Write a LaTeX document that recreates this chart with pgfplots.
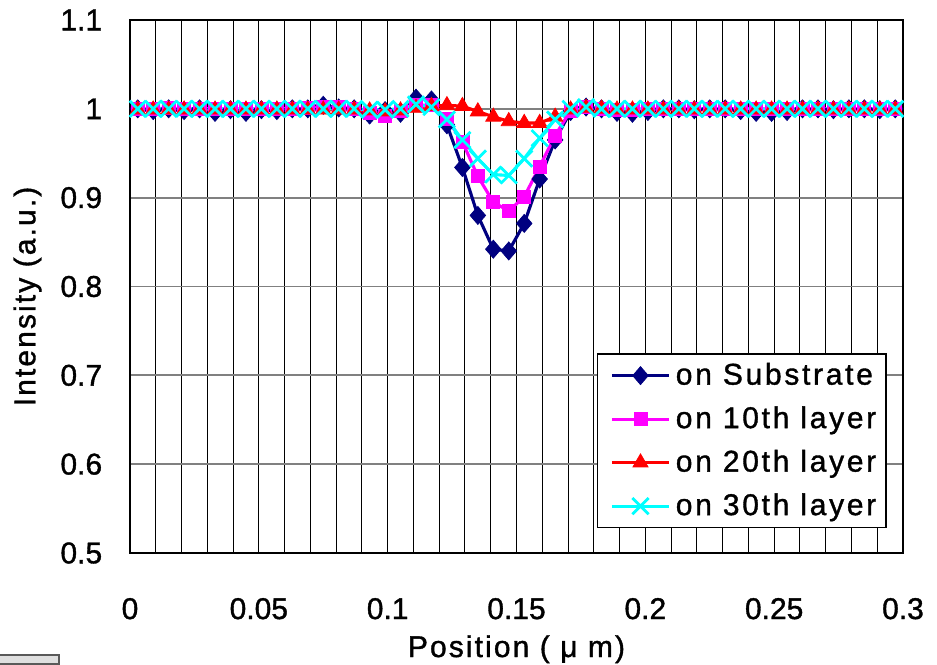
\documentclass[border=0pt]{standalone}
\usepackage{fontspec}
\setmainfont[FakeBold=1.2]{Liberation Sans}
\newfontfamily\legfont[LetterSpace=9,FakeBold=1.2]{Liberation Sans}
\newfontfamily\labfont[LetterSpace=7,FakeBold=1.2]{Liberation Sans}
\usepackage{pgfplots}
\usepackage{pgfplotstable}
\pgfplotsset{compat=1.18}
\definecolor{navy}{RGB}{0,0,128}
\definecolor{mag}{RGB}{255,0,255}
\definecolor{cy}{RGB}{0,255,255}
\definecolor{rd}{RGB}{255,0,0}

\pgfplotstableread{
x      sub    l10    l20    l30
0.003  1.000  1.000  0.999  1.000
0.009  0.998  1.000  0.999  1.000
0.015  1.000  1.001  0.999  1.000
0.021  0.998  1.000  0.999  1.000
0.027  1.000  1.000  0.999  1.000
0.033  0.996  1.000  0.999  1.000
0.039  0.999  1.000  0.999  1.000
0.045  0.996  1.000  0.999  1.000
0.051  0.999  1.000  0.999  1.000
0.057  0.998  1.000  0.999  1.000
0.063  1.000  1.000  0.999  1.000
0.069  1.000  1.001  0.999  1.000
0.075  1.004  1.002  0.999  1.000
0.081  1.001  1.002  0.999  1.000
0.087  1.000  1.000  0.999  1.000
0.093  0.993  0.996  0.998  0.999
0.099  0.998  0.992  0.997  0.999
0.105  0.995  0.998  0.998  1.000
0.111  1.012  1.004  1.001  1.005
0.117  1.010  1.004  1.003  1.002
0.123  0.982  0.989  1.004  0.988
0.129  0.934  0.963  1.003  0.965
0.135  0.880  0.924  0.997  0.944
0.141  0.842  0.895  0.991  0.926
0.147  0.840  0.885  0.986  0.925
0.153  0.871  0.901  0.984  0.944
0.159  0.921  0.935  0.984  0.967
0.165  0.965  0.970  0.991  0.988
0.171  0.997  0.998  0.999  1.000
0.177  1.002  1.002  1.001  1.002
0.183  1.000  1.000  1.000  1.000
0.189  0.996  0.999  0.999  1.000
0.195  0.995  0.999  0.999  1.000
0.201  0.997  1.000  0.999  1.000
0.207  1.000  1.000  0.999  1.000
0.213  1.000  1.000  0.999  1.000
0.219  0.999  1.000  0.999  1.000
0.225  1.000  1.000  0.999  1.000
0.231  1.000  1.000  0.999  1.000
0.237  0.998  1.000  0.999  1.000
0.243  0.996  1.000  0.999  1.000
0.249  0.996  1.000  0.999  1.000
0.255  0.997  1.000  0.999  1.000
0.261  1.000  1.000  0.999  1.000
0.267  1.000  1.000  0.999  1.000
0.273  0.999  1.000  0.999  1.000
0.279  1.000  1.000  0.999  1.000
0.285  1.000  1.000  0.999  1.000
0.291  0.999  1.000  0.999  1.000
0.297  1.000  1.000  0.999  1.000
}\datatable

\begin{document}
\begin{tikzpicture}
\begin{axis}[
  scale only axis,
  width=309.2pt, height=213.2pt,
  xmin=0, xmax=0.3, ymin=0.5, ymax=1.1,
  xtick={0,0.05,0.1,0.15,0.2,0.25,0.3},
  xticklabels={0,0.05,0.1,0.15,0.2,0.25,0.3},
  minor x tick num=4,
  ytick={0.5,0.6,0.7,0.8,0.9,1,1.1},
  yticklabels={0.5,0.6,0.7,0.8,0.9,1,1.1},
  xmajorgrids, xminorgrids, ymajorgrids,
  major x grid style={black, line width=0.4pt},
  minor x grid style={black, line width=0.4pt},
  major y grid style={gray, line width=0.7pt},
  major tick length=0pt, minor tick length=0pt,
  axis line style={black, line width=0.6pt},
  tick label style={font=\fontsize{12}{14}\selectfont},
  xticklabel style={yshift=-14.5pt},
  yticklabel style={xshift=-7.6pt},
  xlabel={Position ( μ m)},
  ylabel={Intensity (a.u.)},
  xlabel style={font=\fontsize{12}{14}\selectfont\labfont, at={(axis description cs:0.5,0)}, anchor=center, yshift=-38.5pt},
  ylabel style={font=\fontsize{12}{14}\selectfont\labfont, at={(axis description cs:0,0.5)}, anchor=center, yshift=41pt, xshift=-4pt},
  legend style={at={(0.979,0.0463)}, anchor=south east, draw=black, line width=0.6pt,
    font=\fontsize{12}{14}\selectfont\legfont, fill=white, inner xsep=1.9pt, inner ysep=1.5pt, row sep=3.2pt},
  legend cell align=left,
  legend image code/.code={\path (0pt,0pt); \draw[mark repeat=2,mark phase=2] plot coordinates {(3.2pt,0pt) (14.7pt,0pt) (26.2pt,0pt)};},
]
\addplot[navy, line width=1.25pt, mark=diamond*, mark size=3.6pt, mark options={solid, xscale=1.15, fill=navy, line width=0.3pt}] table[x=x, y=sub] {\datatable};
\addlegendentry{on Substrate}
\addplot[mag, line width=1.25pt, mark=square*, mark size=2.6pt, mark options={solid, fill=mag, line width=0.3pt}] table[x=x, y=l10] {\datatable};
\addlegendentry{on 10th layer}
\addplot[rd, line width=1.25pt, mark=triangle*, mark size=3.5pt, mark options={solid, fill=rd, line width=0.3pt}] table[x=x, y=l20] {\datatable};
\addlegendentry{on 20th layer}
\addplot[cy, line width=1.25pt, mark=x, mark size=4.6pt, mark options={solid, line width=1.1pt}] table[x=x, y=l30] {\datatable};
\addlegendentry{on 30th layer}
\coordinate (sw) at (rel axis cs:0,0);
\end{axis}
\fill[gray!25, draw=gray!70!black, line width=0.8pt] ([shift={(-52.5pt,-44.4pt)}]sw) rectangle ++(24pt,3.6pt);
\pgfresetboundingbox
\path[use as bounding box] ([shift={(-52pt,-44.4pt)}]sw) rectangle ++(374.8pt,265.6pt);
\end{tikzpicture}
\end{document}
